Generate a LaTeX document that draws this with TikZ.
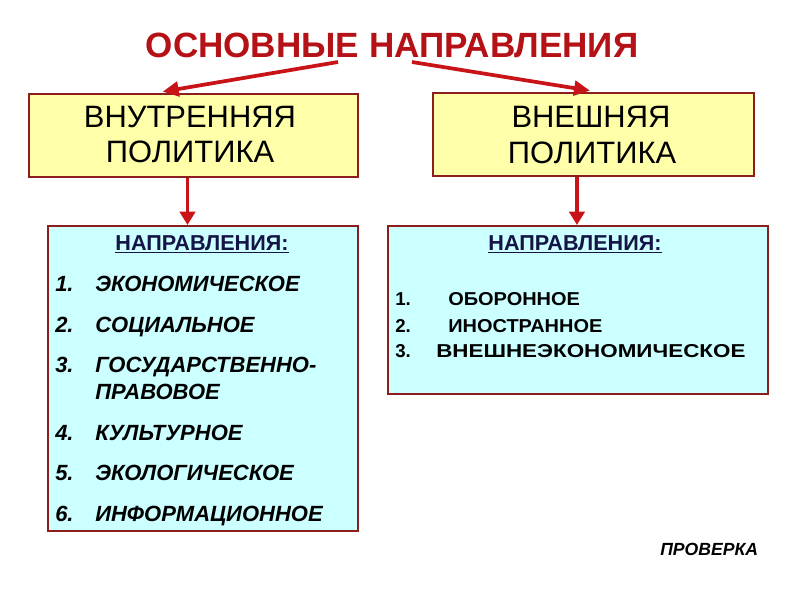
\documentclass[tikz,border=0pt]{standalone}
\usepackage{fontspec}
\setmainfont{Liberation Sans}
\usetikzlibrary{arrows.meta}
\definecolor{titlered}{RGB}{180,18,22}
\definecolor{arrowred}{RGB}{200,20,25}
\definecolor{boxborder}{RGB}{140,30,30}
\definecolor{yellowfill}{RGB}{255,255,170}
\definecolor{cyanfill}{RGB}{204,255,255}
\definecolor{navy}{RGB}{20,20,70}
\begin{document}
\begin{tikzpicture}[x=0.75pt,y=-0.75pt,
  ybox/.style={draw=boxborder,line width=1.5pt,fill=yellowfill,inner sep=0pt,anchor=north west},
  cbox/.style={draw=boxborder,line width=1.5pt,fill=cyanfill,inner sep=0pt,anchor=north west},
  bigarrow/.style={draw=arrowred,line width=2.8pt,-{Triangle[length=12pt,width=11pt]}},
  downarrow/.style={draw=arrowred,line width=2.4pt,-{Triangle[length=10pt,width=11.5pt]}},
  titletext/.style={font=\fontsize{26.3}{26.3}\selectfont\bfseries,text=titlered,anchor=base,inner sep=0pt},
  ytext/.style={font=\fontsize{23.2}{23.2}\selectfont,anchor=base,inner sep=0pt},
  headtext/.style={font=\fontsize{16.2}{16.2}\selectfont\bfseries,text=navy,anchor=base,inner sep=0pt},
  litem/.style={font=\fontsize{16.5}{16.5}\selectfont\bfseries\itshape,anchor=base west,inner sep=0pt},
  ritem/.style={font=\fontsize{14}{14}\selectfont\bfseries,anchor=base west,inner sep=0pt},
  checktext/.style={font=\fontsize{13.2}{13.2}\selectfont\bfseries\itshape,anchor=base west,inner sep=0pt}
]
\useasboundingbox[fill=white] (0,0) rectangle (800,600);

% title
\node[titletext] (title) at (392,57) {ОСНОВНЫЕ НАПРАВЛЕНИЯ};
\coordinate (t1) at (338,62);
\coordinate (t2) at (412,62);

% yellow boxes
\node[ybox,minimum width=246.75pt,minimum height=62.25pt] (L) at (28,93) {};
\node[ybox,minimum width=240.75pt,minimum height=62.25pt] (R) at (432,92) {};
\node[ytext] (l1) at (190,127) {ВНУТРЕННЯЯ};
\node[ytext] (l2) at (190,162) {ПОЛИТИКА};
\node[ytext] (r1) at (591,127) {ВНЕШНЯЯ};
\node[ytext] (r2) at (592,163) {ПОЛИТИКА};

% cyan boxes
\node[cbox,minimum width=232.5pt,minimum height=228.75pt] (LC) at (47,225) {};
\node[cbox,minimum width=285pt,minimum height=126pt] (RC) at (387,225) {};

% arrows
\draw[bigarrow] (t1) -- ([xshift=101pt,yshift=1pt]L.north west);
\draw[bigarrow] (t2) -- ([xshift=118.5pt,yshift=1pt]R.north west);
\draw[downarrow] ([xshift=-4.5pt]L.south) -- ([xshift=-4.5pt]L.south |- LC.north);
\draw[downarrow] ([xshift=-12.4pt]R.south) -- ([xshift=-12.4pt]R.south |- RC.north);

% left box content
\node[headtext] (lh) at (202,250) {\underline{НАПРАВЛЕНИЯ:}};
\node[litem] (ln1) at (55,291) {1.};
\node[litem] (lt1) at (95,291) {ЭКОНОМИЧЕСКОЕ};
\node[litem] (ln2) at (55,332) {2.};
\node[litem] (lt2) at (95,332) {СОЦИАЛЬНОЕ};
\node[litem] (ln3) at (55,372) {3.};
\node[litem] (lt3) at (95,372) {ГОСУДАРСТВЕННО-};
\node[litem] (lt3b) at (95,399) {ПРАВОВОЕ};
\node[litem] (ln4) at (55,440) {4.};
\node[litem] (lt4) at (95,440) {КУЛЬТУРНОЕ};
\node[litem] (ln5) at (55,480) {5.};
\node[litem] (lt5) at (95,480) {ЭКОЛОГИЧЕСКОЕ};
\node[litem] (ln6) at (55,521) {6.};
\node[litem] (lt6) at (95,521) {ИНФОРМАЦИОННОЕ};

% right box content
\node[headtext] (rh) at (575,250) {\underline{НАПРАВЛЕНИЯ:}};
\node[ritem] (rn1) at (395,305) {1.};
\node[ritem] (rt1) at (448,305) {\scalebox{1.07}[1]{ОБОРОННОЕ}};
\node[ritem] (rn2) at (395,332) {2.};
\node[ritem] (rt2) at (448,332) {\scalebox{1.07}[1]{ИНОСТРАННОЕ}};
\node[ritem] (rn3) at (395,357) {3.};
\node[ritem] (rt3) at (436,357) {\scalebox{1.2}[1]{ВНЕШНЕЭКОНОМИЧЕСКОЕ}};

% check
\node[checktext] (chk) at (660,555) {ПРОВЕРКА};
\end{tikzpicture}
\end{document}
